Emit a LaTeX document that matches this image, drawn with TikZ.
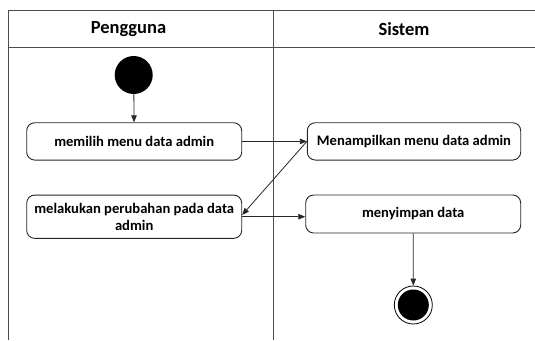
\documentclass[tikz,border=0pt]{standalone}
\usepackage{fontspec}
\setmainfont{Carlito}
\usetikzlibrary{arrows.meta,calc}
\begin{document}
\begin{tikzpicture}[x=1pt,y=-1pt,
  lane/.style={draw=black!70,line width=1pt},
  act/.style={draw=black!85,line width=0.9pt,rounded corners=8pt,fill=white,
    font=\bfseries\fontsize{14.6}{17.5}\selectfont,align=center,inner sep=0pt},
  flow/.style={draw=black!85,line width=0.8pt,-{Triangle[length=7pt,width=5.5pt]}},
  hdr/.style={font=\bfseries\fontsize{18.5}{21}\selectfont,inner sep=0pt}
]
\useasboundingbox (0,0) rectangle (535,340);
% swimlanes
\coordinate (tl) at (8,10);
\coordinate (tr) at (535,10);
\coordinate (hl) at (8,47.7);
\coordinate (hr) at (535,47.7);
\coordinate (bl) at (8,340);
\coordinate (dt) at (273.3,10);
\coordinate (db) at (273.3,340);
\draw[lane] (tl) -- (tr);
\draw[lane] (hl) -- (hr);
\draw[lane] (tl) -- (bl);
\draw[lane] (dt) -- (db);
\node[hdr] (h1) at (128.5,29) {Pengguna};
\node[hdr] (h2) at (404,29) {Sistem};
% nodes
\node[circle,fill=black,minimum size=38pt,inner sep=0pt] (start) at (133.7,75) {};
\node[act,minimum width=215pt,minimum height=37.3pt] (b1) at (134.2,141.4) {memilih menu data admin};
\node[act,minimum width=213.4pt,minimum height=37.3pt] (b2) at (414,141.4) {Menampilkan menu data admin};
\node[act,minimum width=215pt,minimum height=43.3pt] (b3) at (134.2,216.7) {melakukan perubahan pada data\\admin};
\node[act,minimum width=215pt,minimum height=38pt] (b4) at (413.2,214) {menyimpan data};
\node[circle,draw=black,line width=0.8pt,minimum size=38pt,inner sep=0pt] (end) at (413.3,305) {};
\node[circle,fill=black,minimum size=31pt,inner sep=0pt] (endin) at (end.center) {};
% flows
\draw[flow] (start) -- (b1);
\draw[flow] (b1.east) -- (b2.west);
\draw[flow] (b2.west) -- ($(b3.east)+(0,-1.7)$);
\draw[flow] (b3.east) -- (b3.east -| b4.west);
\draw[flow] (b4.south) -- (end.north);
\end{tikzpicture}
\end{document}
